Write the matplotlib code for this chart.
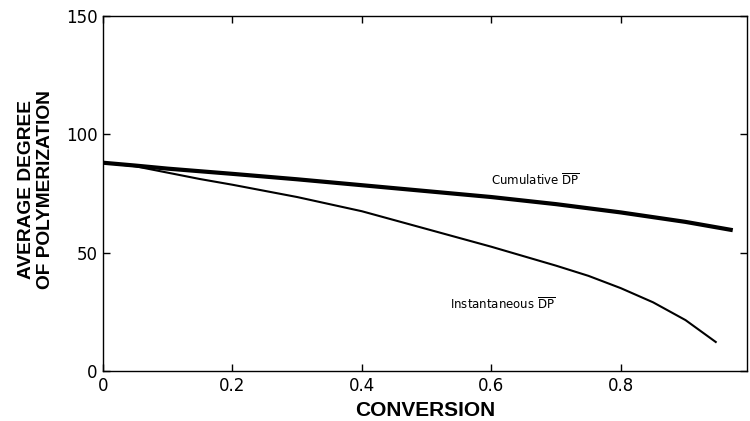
import matplotlib
matplotlib.use("Agg")
import matplotlib.pyplot as plt

cum_x = [0, 0.05, 0.1, 0.2, 0.3, 0.4, 0.5, 0.6, 0.7, 0.8, 0.9, 0.973]
cum_y = [88, 86.8, 85.5, 83.3, 81, 78.5, 76, 73.5, 70.5, 67, 63, 59.5]

inst_x = [0, 0.05, 0.1, 0.15, 0.2, 0.3, 0.4, 0.5, 0.6, 0.7, 0.75, 0.8, 0.85, 0.9, 0.948]
inst_y = [88, 86.5, 83.8, 81.1, 78.7, 73.5, 67.5, 60, 52.5, 44.5, 40.2, 35, 29, 21.5, 12]

x_ticks = [0, 0.2, 0.4, 0.6, 0.8]
x_ticklabels = ["0", "0.2", "0.4", "0.6", "0.8"]
y_ticks = [0, 50, 100, 150]
y_ticklabels = ["0", "50", "100", "150"]

plt.rcParams['font.family'] = ['DejaVu Sans']
plt.rcParams['mathtext.fontset'] = 'dejavusans'

fig = plt.figure(figsize=(7.5, 4.21), dpi=100)
ax = fig.add_axes([0.1373, 0.1188, 0.996 - 0.1373, 0.962 - 0.1188])

ax.plot(cum_x, cum_y, color='black', lw=3.0, solid_capstyle='butt')
ax.plot(inst_x, inst_y, color='black', lw=1.5, solid_capstyle='butt')

ax.set_xlim(0, 0.995)
ax.set_ylim(0, 150)
ax.set_xticks(x_ticks)
ax.set_xticklabels(x_ticklabels)
ax.set_yticks(y_ticks)
ax.set_yticklabels(y_ticklabels)
ax.tick_params(direction='in', length=5, width=1, top=True, right=True,
               labelsize=12, pad=4)
for s in ax.spines.values():
    s.set_linewidth(1)

ax.set_xlabel("CONVERSION", fontsize=15, fontweight='bold',
              family='Liberation Sans', va='baseline')
ax.xaxis.set_label_coords(0.5, -0.126)
ax.set_ylabel("AVERAGE DEGREE\nOF POLYMERIZATION", fontsize=13.8,
              fontweight='bold', family='Liberation Sans',
              linespacing=1.15, va='baseline')
ax.yaxis.set_label_coords(-0.0854, 0.51)

ax.text(0.60, 80.7, r"Cumulative $\overline{\mathsf{DP}}$", fontsize=8.5,
        va='center', ha='left')
ax.text(0.536, 28.3, r"Instantaneous $\overline{\mathsf{DP}}$", fontsize=8.5,
        va='center', ha='left')

fig.savefig("out.png", dpi=100)
